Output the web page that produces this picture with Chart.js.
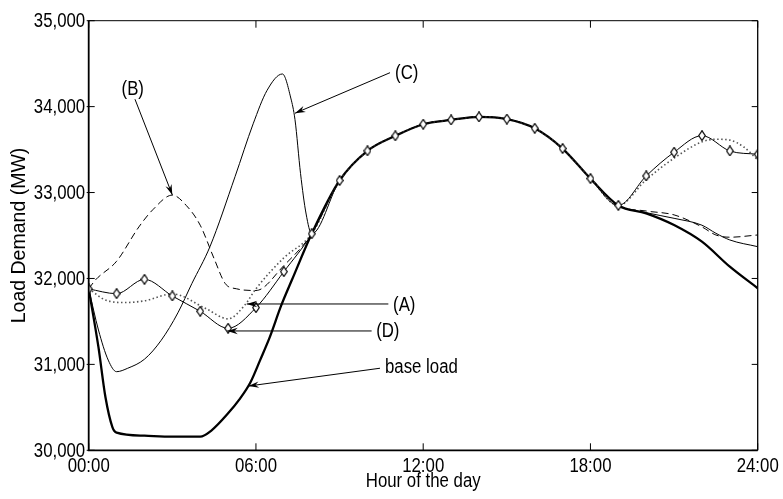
<!DOCTYPE html>
<html>
<head>
  <meta charset="UTF-8">
  <title>Load Demand</title>
  <script src="https://cdn.jsdelivr.net/npm/chart.js"></script>
  <style>
    body { margin: 0; background: #fff; }
    canvas { display: block; }
  </style>
</head>
<body>
  <canvas id="loadChart" width="783" height="499"></canvas>
  <script>
    const FONT = "'Liberation Sans', Arial, sans-serif";
    const SQUEEZE = 0.84;   // the original lettering is a narrow Helvetica

    // axis ticks
    const xTicks = [0, 6, 12, 18, 24];
    const xTickLabels = ['00:00', '06:00', '12:00', '18:00', '24:00'];
    const yTicks = [30000, 31000, 32000, 33000, 34000, 35000];
    const yTickLabels = ['30,000', '31,000', '32,000', '33,000', '34,000', '35,000'];

    // (D) - marked with diamonds every hour
    const dHours = [0, 1, 2, 3, 4, 5, 6, 7, 8, 9, 10, 11, 12, 13, 14, 15, 16, 17, 18, 19, 20, 21, 22, 23, 24];
    const dLoad = [31878, 31823, 31990, 31796, 31618, 31420, 31660, 32079, 32520, 33140, 33485, 33660, 33795,
                   33845, 33880, 33855, 33748, 33512, 33162, 32850, 33193, 33469, 33662, 33484, 33445];

    // (A) - dotted
    const aHours = [0, 0.6, 1.3, 2, 3, 4.2, 5, 5.6, 6, 7, 8, 9, 10, 11, 12, 13, 14, 15, 16, 17, 18, 19,
                    20, 21, 22, 22.5, 23, 23.5, 24];
    const aLoad = [31880, 31750, 31720, 31740, 31820, 31650, 31530, 31690, 31880, 32240, 32520, 33140, 33485,
                   33660, 33795, 33845, 33880, 33855, 33748, 33512, 33162, 32850,
                   33150, 33400, 33590, 33620, 33610, 33530, 33380];

    // (B) - dashed
    const bHours = [0, 0.25, 1, 1.8, 2.3, 3, 3.5, 4, 4.5, 4.9, 5.3, 6, 7, 8, 9, 10, 11, 12, 13, 14, 15, 16, 17, 18, 19,
                    20, 21, 22, 22.5, 23, 24];
    const bLoad = [31880, 31985, 32200, 32600, 32800, 32970, 32850, 32620, 32230, 31940, 31880, 31860, 32150, 32520,
                   33140, 33485, 33660, 33795, 33845, 33880, 33855, 33748, 33512, 33162, 32850,
                   32785, 32740, 32600, 32506, 32480, 32506];

    // (C) - thin solid
    const cHours = [0, 0.35, 0.7, 1, 1.4, 2, 2.6, 3.2, 3.7, 4.35, 5.25, 5.9, 6.4, 6.95, 7.25, 7.4, 7.6, 7.8, 8,
                    9, 10, 11, 12, 13, 14, 15, 16, 17, 18, 19, 20, 21, 22, 22.5, 23, 24];
    const cLoad = [31880, 31400, 31050, 30915, 30955, 31060, 31280, 31600, 31940, 32370, 33185, 33800, 34190, 34380,
                   34100, 33850, 33220, 32750, 32520, 33140, 33485, 33660, 33795, 33845, 33880, 33855, 33748,
                   33512, 33162, 32850, 32766, 32700, 32620, 32526, 32448, 32370];

    // base load - thick solid
    const baseHours = [0, 0.35, 0.6, 0.85, 1, 2, 3, 4, 4.4, 5, 5.4, 5.8, 6.15, 6.5, 6.9, 7.3, 8, 9, 10, 11, 12,
                       13, 14, 15, 16, 17, 18, 19, 20, 21, 22, 23, 24];
    const baseLoad = [31880, 31200, 30620, 30270, 30205, 30170, 30160, 30160, 30230, 30430, 30590, 30790, 31050,
                      31320, 31680, 31990, 32520, 33140, 33485, 33660, 33795, 33845, 33880, 33855, 33748, 33512,
                      33162, 32850, 32758, 32622, 32428, 32137, 31886];

    // callouts: label, text anchor (hour, MW), arrow start, arrow tip
    const noteLabels = ['(B)', '(C)', '(A)', '(D)', 'base load'];
    const noteAlign = ['center', 'center', 'center', 'center', 'left'];
    const noteText = [[1.58, 34200], [11.41, 34390], [11.32, 31690], [10.73, 31380], [10.63, 30966]];
    const noteFrom = [[1.66, 34086], [10.81, 34395], [10.75, 31703], [10.15, 31389], [10.45, 30955]];
    const noteTo = [[3.0, 32972], [7.40, 33923], [5.67, 31703], [4.97, 31389], [5.73, 30748]];

    const pts = (xs, ys) => xs.map((x, i) => ({ x: x, y: ys[i] }));

    function line(data, width, dash, color) {
      return {
        data: data,
        borderColor: color || '#000',
        borderWidth: width,
        borderDash: dash || [],
        cubicInterpolationMode: 'monotone',
        pointRadius: 0,
        fill: false
      };
    }

    // narrow hollow diamond marker
    const diamond = document.createElement('canvas');
    diamond.width = 8;
    diamond.height = 11;
    const g = diamond.getContext('2d');
    g.beginPath();
    g.moveTo(4, 0.7); g.lineTo(7.3, 5.5); g.lineTo(4, 10.3); g.lineTo(0.7, 5.5);
    g.closePath();
    g.fillStyle = '#fff';
    g.fill();
    g.lineWidth = 1.2;
    g.strokeStyle = '#000';
    g.stroke();

    const dSet = line(pts(dHours, dLoad), 1);
    dSet.pointRadius = 4;
    dSet.pointStyle = diamond;

    function squeezed(ctx, txt, px, py, align) {
      ctx.save();
      ctx.translate(px, py);
      ctx.scale(SQUEEZE, 1);
      ctx.textAlign = align;
      ctx.fillText(txt, 0, 0);
      ctx.restore();
    }

    function arrow(ctx, x1, y1, x2, y2) {
      const ang = Math.atan2(y2 - y1, x2 - x1);
      ctx.beginPath();
      ctx.moveTo(x1, y1);
      ctx.lineTo(x2, y2);
      ctx.stroke();
      const len = 11, spread = 0.3, notch = 7;
      ctx.beginPath();
      ctx.moveTo(x2, y2);
      ctx.lineTo(x2 - len * Math.cos(ang - spread), y2 - len * Math.sin(ang - spread));
      ctx.lineTo(x2 - notch * Math.cos(ang), y2 - notch * Math.sin(ang));
      ctx.lineTo(x2 - len * Math.cos(ang + spread), y2 - len * Math.sin(ang + spread));
      ctx.closePath();
      ctx.fill();
    }

    const framePlugin = {
      id: 'frame',
      afterDraw(chart) {
        const { ctx, chartArea: a, scales: { x, y } } = chart;
        ctx.save();
        ctx.strokeStyle = '#000';
        ctx.fillStyle = '#000';
        // box
        ctx.lineWidth = 1;
        ctx.beginPath();
        ctx.moveTo(a.left, a.top); ctx.lineTo(a.right, a.top);
        ctx.stroke();
        ctx.lineWidth = 1.3;
        ctx.beginPath();
        ctx.moveTo(a.right, a.top); ctx.lineTo(a.right, a.bottom);
        ctx.stroke();
        ctx.lineWidth = 1.8;
        ctx.beginPath();
        ctx.moveTo(a.left, a.top); ctx.lineTo(a.left, a.bottom); ctx.lineTo(a.right, a.bottom);
        ctx.stroke();

        // inward ticks on all four sides, plus tick labels
        ctx.lineWidth = 1;
        ctx.font = '20px ' + FONT;
        ctx.textBaseline = 'middle';
        xTicks.forEach((v, i) => {
          const px = x.getPixelForValue(v);
          ctx.beginPath();
          ctx.moveTo(px, a.bottom); ctx.lineTo(px, a.bottom - 7);
          ctx.moveTo(px, a.top); ctx.lineTo(px, a.top + 7);
          ctx.stroke();
          squeezed(ctx, xTickLabels[i], px, a.bottom + 16, 'center');
        });
        yTicks.forEach((v, i) => {
          const py = y.getPixelForValue(v);
          ctx.beginPath();
          ctx.moveTo(a.left - 2, py); ctx.lineTo(a.left + 6, py);
          ctx.moveTo(a.right, py); ctx.lineTo(a.right - 6, py);
          ctx.stroke();
          squeezed(ctx, yTickLabels[i], a.left - 3.5, py + 1, 'right');
        });
        squeezed(ctx, 'Hour of the day', (a.left + a.right) / 2, a.bottom + 31, 'center');

        // callouts
        noteLabels.forEach((txt, i) => {
          squeezed(ctx, txt, x.getPixelForValue(noteText[i][0]), y.getPixelForValue(noteText[i][1]), noteAlign[i]);
          arrow(ctx,
            x.getPixelForValue(noteFrom[i][0]), y.getPixelForValue(noteFrom[i][1]),
            x.getPixelForValue(noteTo[i][0]), y.getPixelForValue(noteTo[i][1]));
        });
        ctx.restore();
      }
    };

    new Chart(document.getElementById('loadChart').getContext('2d'), {
      type: 'line',
      data: {
        datasets: [
          dSet,
          line(pts(aHours, aLoad), 1.6, [1.5, 2.5], '#555'),
          line(pts(bHours, bLoad), 1, [7, 4]),
          line(pts(cHours, cLoad), 1),
          line(pts(baseHours, baseLoad), 2.3)
        ]
      },
      options: {
        animation: false,
        responsive: false,
        layout: { padding: { top: 20.7, right: 25.3, bottom: 0, left: 0 } },
        plugins: { legend: { display: false }, tooltip: { enabled: false } },
        scales: {
          x: {
            type: 'linear',
            min: 0,
            max: 24,
            afterBuildTicks: s => { s.ticks = xTicks.map(v => ({ value: v })); },
            afterFit: s => { s.height = 48.7; },
            grid: { display: false, drawTicks: false },
            border: { display: false },
            ticks: { display: false }
          },
          y: {
            min: 30000,
            max: 35000,
            afterBuildTicks: s => { s.ticks = yTicks.map(v => ({ value: v })); },
            afterFit: s => { s.width = 88.7; },
            grid: { display: false, drawTicks: false },
            border: { display: false },
            ticks: { display: false },
            title: {
              display: true,
              text: 'Load Demand (MW)',
              color: '#000',
              font: { family: FONT, size: 19.5 },
              padding: { top: 8.3, bottom: 0 }
            }
          }
        }
      },
      plugins: [framePlugin]
    });
  </script>
</body>
</html>
